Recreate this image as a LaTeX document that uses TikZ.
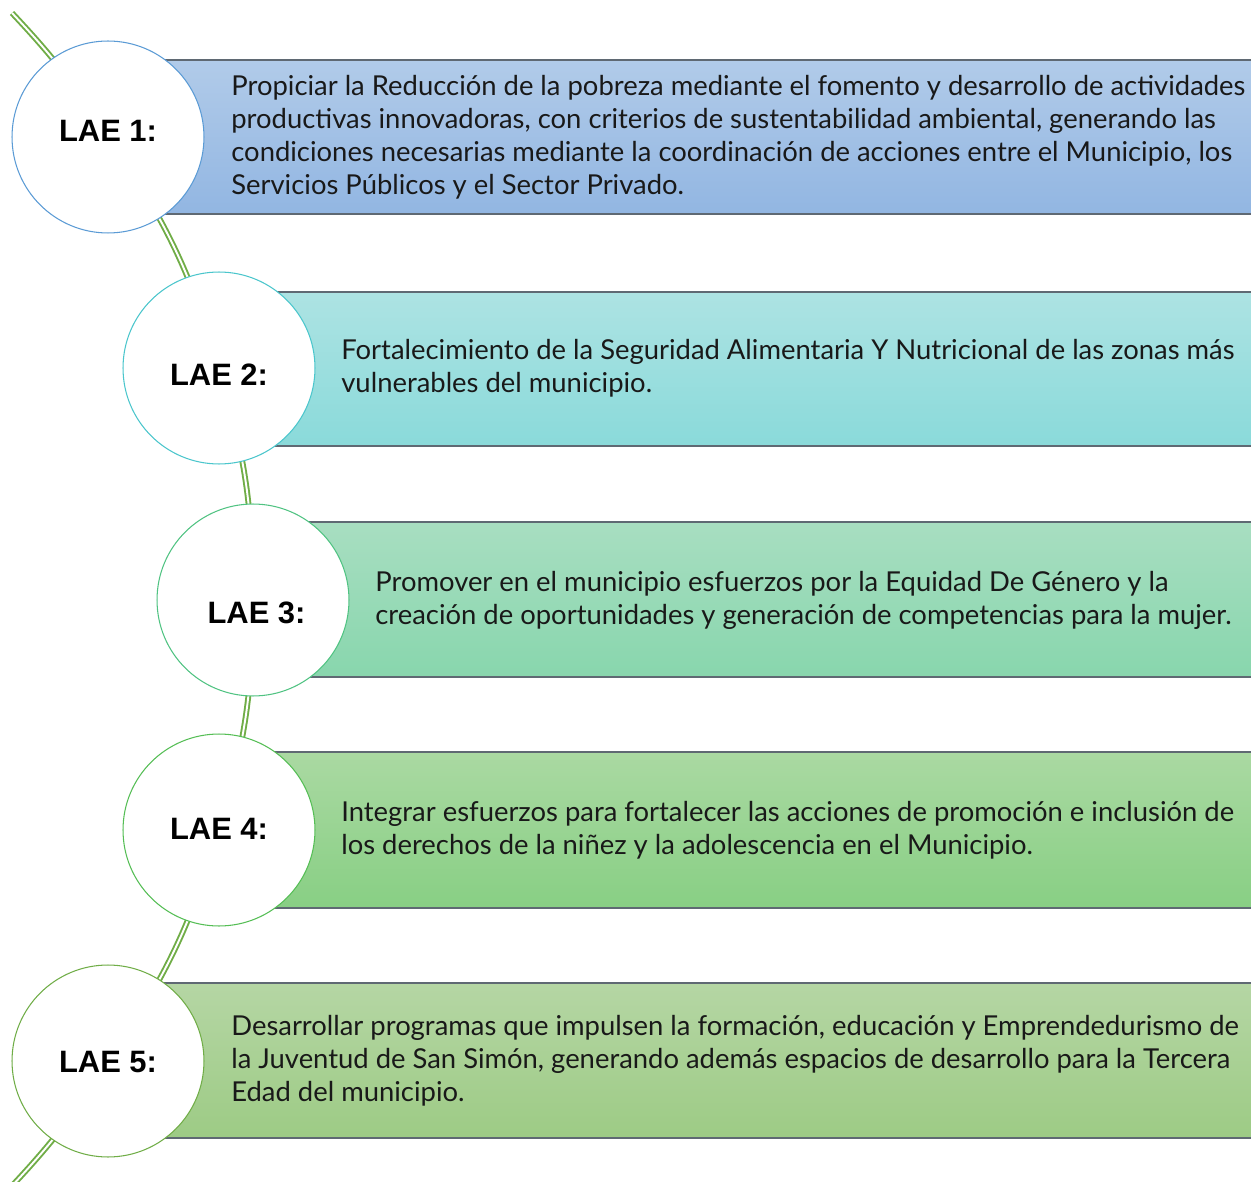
\documentclass[tikz,border=0pt]{standalone}
\usepackage{fontspec}
\newfontfamily\bodyfont{Lato}
\newfontfamily\laefont{Liberation Sans}
\usetikzlibrary{calc}
\definecolor{spineg}{RGB}{112,173,71}
\definecolor{barline}{RGB}{95,105,115}
\definecolor{textc}{RGB}{25,25,25}
\definecolor{ringa}{RGB}{91,155,213}
\definecolor{ringb}{RGB}{75,198,204}
\definecolor{ringc}{RGB}{80,195,130}
\definecolor{ringd}{RGB}{85,190,85}
\definecolor{ringe}{RGB}{112,173,71}
\definecolor{barat}{RGB}{177,203,233}
\definecolor{barab}{RGB}{146,182,226}
\definecolor{barbt}{RGB}{173,227,227}
\definecolor{barbb}{RGB}{138,218,218}
\definecolor{barct}{RGB}{168,222,193}
\definecolor{barcb}{RGB}{136,214,173}
\definecolor{bardt}{RGB}{170,217,162}
\definecolor{bardb}{RGB}{136,207,132}
\definecolor{baret}{RGB}{181,214,164}
\definecolor{bareb}{RGB}{157,203,133}
\newcommand{\laelab}[2]{\raisebox{#1}[0pt][0pt]{#2}}
\tikzset{
    lae/.style={draw=#1, fill=white, circle, line width=0.6pt, minimum size=3.84cm,
        inner sep=0pt, font=\laefont\bfseries\fontsize{17.6}{20}\selectfont},
    bar/.style args={#1 #2}{draw=barline, line width=0.6pt, top color=#1, bottom color=#2},
    txt/.style={anchor=west, align=left, inner sep=0pt, text=textc,
        font=\bodyfont\fontsize{15.6}{18.7}\selectfont},
    spine/.style={draw=spineg, double=white, line width=1.1pt, double distance=1.1pt}
}
\begin{document}
\begin{tikzpicture}[x=0.02cm, y=-0.02cm]
    \clip (0,0) rectangle (1251,1182);
    \coordinate (top) at (12,13);
    \coordinate (c1) at (108,137);
    \coordinate (c2) at (219,368);
    \coordinate (c3) at (253,600);
    \coordinate (c4) at (219,830);
    \coordinate (c5) at (108,1061);
    \coordinate (bot) at (10,1188);
    % spine
    \draw[spine] (top) to[bend left=5.5] (c1) to[bend left=9.1] (c2) to[bend left=8.3] (c3)
        to[bend left=8.3] (c4) to[bend left=9.1] (c5) to[bend left=5.5] (bot);
    % bars
    \path[bar={barat barab}] (108,60) rectangle (1260,214);
    \path[bar={barbt barbb}] (219,292) rectangle (1260,446);
    \path[bar={barct barcb}] (253,522) rectangle (1260,677);
    \path[bar={bardt bardb}] (219,752) rectangle (1260,908);
    \path[bar={baret bareb}] (108,983) rectangle (1260,1138);
    % circles
    \node[lae=ringa] (lae1) at (c1) {\laelab{-2.8pt}{LAE 1:}};
    \node[lae=ringb] (lae2) at (c2) {\laelab{-10.2pt}{LAE 2:}};
    \node[lae=ringc] (lae3) at (c3) {\hspace{4pt}\laelab{-13.6pt}{LAE 3:}};
    \node[lae=ringd] (lae4) at (c4) {\laelab{-5.4pt}{LAE 4:}};
    \node[lae=ringe] (lae5) at (c5) {\laelab{-6.5pt}{LAE 5:}};
    % texts
    \node[txt] (t1) at ($(c1)+(123,0)$) {Propiciar la Reducción de la pobreza mediante el fomento y desarrollo de actividades\\
        productivas innovadoras, con criterios de sustentabilidad ambiental, generando las\\
        condiciones necesarias mediante la coordinación de acciones entre el Municipio, los\\
        Servicios Públicos y el Sector Privado.};
    \node[txt] (t2) at ($(c2)+(122,0)$) {Fortalecimiento de la Seguridad Alimentaria Y Nutricional de las zonas más\\
        vulnerables del municipio.};
    \node[txt] (t3) at ($(c3)+(122,0)$) {Promover en el municipio esfuerzos por la Equidad De Género y la\\
        creación de oportunidades y generación de competencias para la mujer.};
    \node[txt] (t4) at ($(c4)+(122,0)$) {Integrar esfuerzos para fortalecer las acciones de promoción e inclusión de\\
        los derechos de la niñez y la adolescencia en el Municipio.};
    \node[txt] (t5) at ($(c5)+(123,0)$) {Desarrollar programas que impulsen la formación, educación y Emprendedurismo de\\
        la Juventud de San Simón, generando además espacios de desarrollo para la Tercera\\
        Edad del municipio.};
\end{tikzpicture}
\end{document}
